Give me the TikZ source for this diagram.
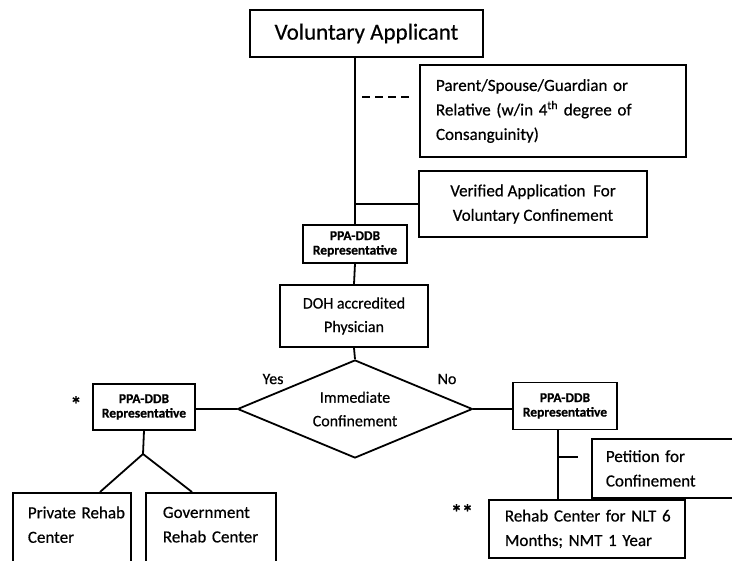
\documentclass[tikz,border=0pt]{standalone}
\usepackage{fontspec}
\setmainfont{Carlito}[FakeBold=0.5]
\usetikzlibrary{shapes.geometric}
\tikzset{
  box/.style={draw, line width=1.8pt, inner sep=0pt, rectangle},
  conn/.style={line width=1.8pt},
  txtA/.style={font=\fontsize{17}{24.5}\selectfont},
  txtB/.style={font=\fontsize{16}{23.5}\selectfont},
  ppa/.style={box, font=\fontsize{13.5}{14.5}\selectfont\bfseries, align=center},
  lbl/.style={inner sep=0pt, font=\fontsize{16}{19}\selectfont},
  star/.style={inner sep=0pt, font=\fontsize{22}{22}\selectfont\bfseries},
  lbox/.style={box, txtA, inner xsep=0pt, align=left, anchor=north west}
}
\begin{document}
\begin{tikzpicture}[x=1pt,y=-1pt]
\useasboundingbox (0,0) rectangle (732,561);
\clip (0,0) rectangle (732,561);
\fill[white] (0,0) rectangle (732,561);

\node[box, minimum width=233, minimum height=47, font=\fontsize{23}{27}\selectfont] (va) at (366.5,33.5) {Voluntary Applicant};
\node[box, txtA, minimum width=266, minimum height=92, text width=234, inner xsep=16, align=left] (par) at (553,111)
  {Parent/Spouse/Guardian or\\Relative (w/in 4\textsuperscript{th} degree of\\Consanguinity)};
\node[box, txtA, minimum width=228, minimum height=66, align=center] (ver) at (533,204)
  {Verified Application~ For\\Voluntary Confinement};
\node[ppa, minimum width=104, minimum height=38] (ppa1) at (355,244) {PPA-DDB\\Representative};
\node[box, txtB, minimum width=148, minimum height=62, align=center] (doh) at (354,316) {DOH accredited\\Physician};
\node[draw, line width=1.8pt, diamond, inner sep=0pt, aspect=2.4, minimum width=235, minimum height=98, txtB, align=center] (dia) at (355,409) {Immediate\\Confinement};
\node[ppa, minimum width=102, minimum height=46] (lppa) at (144,407) {PPA-DDB\\Representative};
\node[ppa, minimum width=104, minimum height=47] (rppa) at (565,406) {PPA-DDB\\Representative};
\node[lbox, text width=118, minimum height=88] (priv) at (12,492)
  {\hspace*{15pt}Private Rehab\\\hspace*{15pt}Center\\\mbox{}};
\node[lbox, text width=130, minimum height=88] (gov) at (145,492)
  {\hspace*{17pt}Government\\\hspace*{17pt}Rehab Center\\\mbox{}};
\node[lbox, text width=180, minimum height=59] (pet) at (591,438)
  {\hspace*{14pt}Petition for\\\hspace*{14pt}Confinement};
\node[lbox, text width=196, minimum height=58] (reh) at (488,499)
  {\hspace*{16pt}Rehab Center for NLT 6\\\hspace*{16pt}Months; NMT 1 Year};

\node[lbl] (yes) at (273,379) {Yes};
\node[lbl] (no) at (447,379) {No};
\node[star] (st1) at (76,404) {*};
\node[star] (st2) at (462,512) {**};

\coordinate (d1) at (362,97);
\coordinate (d2) at (413,97);
\coordinate (j) at (143,454);
\coordinate (pa) at (100,492);
\coordinate (pb) at (192,492);
\coordinate (rv) at (558,0);
\coordinate (tk) at (558,457);
\coordinate (tke) at (578,457);

\draw[conn] (ppa1.north |- va.south) -- (ppa1.north);
\draw[conn, dash pattern=on 8pt off 5pt] (d1) -- (d2);
\draw[conn] (ppa1.north |- ver.west) -- (ver.west);
\draw[conn] (ppa1.south) -- (doh.north);
\draw[conn] (doh.south) -- (dia.north);
\draw[conn] (dia.west) -- (dia.west -| lppa.east);
\draw[conn] (dia.east) -- (dia.east -| rppa.west);
\draw[conn] (lppa.south) -- (j);
\draw[conn] (j) -- (pa);
\draw[conn] (j) -- (pb);
\draw[conn] (rppa.south -| rv) -- (reh.north -| rv);
\draw[conn] (tk) -- (tke);
\end{tikzpicture}
\end{document}
